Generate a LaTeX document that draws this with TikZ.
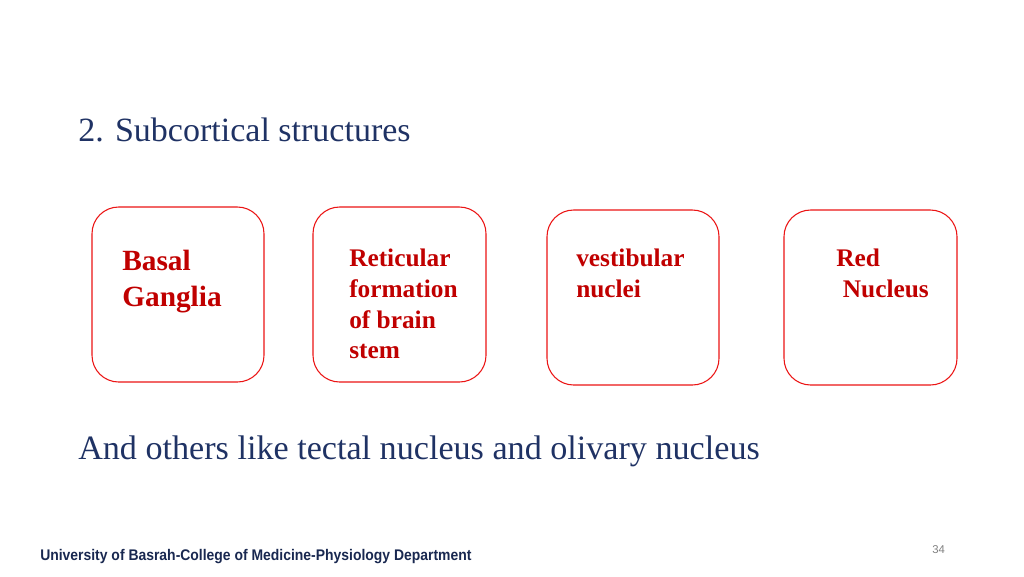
\documentclass[tikz,border=0pt]{standalone}
\usepackage{fontspec}
\usepackage{graphicx}
\setmainfont{Liberation Serif}
\setsansfont{Liberation Sans}
\definecolor{boxred}{RGB}{235,20,20}
\definecolor{txtred}{RGB}{192,0,0}
\definecolor{navy}{RGB}{31,50,100}
\tikzset{
  nucbox/.style={draw=boxred, rounded corners=20pt, line width=0.8pt},
  nuctext/.style={anchor=north west, inner sep=0pt, align=left, text=txtred,
    font=\fontsize{19}{23}\selectfont\bfseries},
}
\begin{document}
\begin{tikzpicture}[x=0.75pt, y=-0.75pt]
\useasboundingbox (0,0) rectangle (1024,576);
\node [anchor=base west, inner sep=0pt, text=navy, font=\fontsize{25.5}{30}\selectfont] (title) at (78,141) {2. Subcortical structures};
% boxes
\draw [nucbox] (92,207) rectangle (264,382);
\draw [nucbox] (313,207) rectangle (486,382);
\draw [nucbox] (547,210) rectangle (719,385);
\draw [nucbox] (784,210) rectangle (957,385);
\node [nuctext, font=\fontsize{22}{27}\selectfont\bfseries] (basal) at (122,250) {Basal\\Ganglia};
\node [nuctext] (retic) at (349,249) {Reticular\\formation\\of brain\\stem};
\node [nuctext] (vest) at (576,249) {vestibular\\nuclei};
\node [nuctext] (red) at (836,249) {Red\\\hspace*{5pt}Nucleus};
\node [anchor=base west, inner sep=0pt, text=navy, font=\fontsize{25.6}{30}\selectfont] (others) at (78,459) {And others like tectal nucleus and olivary nucleus};
\node [anchor=base west, inner sep=0pt, text=navy!80!black, font=\sffamily\bfseries\fontsize{11}{13}\selectfont] (foot) at (40,560) {\scalebox{0.95}[1.05]{University of Basrah-College of Medicine-Physiology Department}};
\node [anchor=base west, inner sep=0pt, text=gray, font=\sffamily\fontsize{8.5}{10}\selectfont] (page) at (932,553) {34};
\end{tikzpicture}
\end{document}
